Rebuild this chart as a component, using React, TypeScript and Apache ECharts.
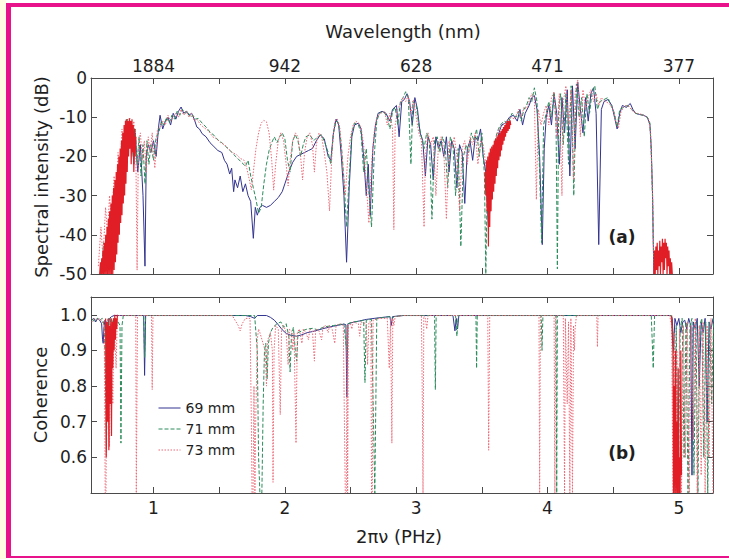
import React, { useEffect, useRef } from 'react';
import * as echarts from 'echarts';

// ---- axes ----
const X_MIN = 0.524;
const X_MAX = 5.26;
const freqTicks = [1, 2, 3, 4, 5];
const halfTicks = [1, 1.5, 2, 2.5, 3, 3.5, 4, 4.5, 5];
const wavelengthLabels = ['1884', '942', '628', '471', '377'];
const dbTicks = [-50, -40, -30, -20, -10, 0];
const cohTicks = [0.6, 0.7, 0.8, 0.9, 1.0];
const seriesNames = ['69 mm', '71 mm', '73 mm'];

// ---- (a) spectral intensity, dB ----
const spec69 = [[0.60,-50],[0.63,-44],[0.66,-47],[0.69,-38],[0.71,-42],[0.73,-30],[0.75,-24],[0.77,-16],[0.79,-20],[0.80,-11],[0.82,-18],[0.83,-12],[0.85,-22],[0.86,-14],[0.88,-24],[0.90,-17],[0.92,-30],[0.935,-48],[0.945,-20],[0.96,-17],[0.98,-19],[1.0,-16],[1.02,-20],[1.04,-12],[1.05,-9.5],[1.07,-13],[1.09,-11],[1.11,-10],[1.13,-12],[1.15,-9],[1.17,-10.5],[1.19,-8.5],[1.21,-7.4],[1.23,-9],[1.25,-8.5],[1.27,-9.5],[1.29,-9],[1.31,-10.5],[1.33,-12.5],[1.35,-13],[1.37,-14.2],[1.40,-15],[1.43,-16.5],[1.46,-17.5],[1.49,-18.5],[1.52,-19],[1.54,-21],[1.56,-22],[1.58,-24.5],[1.595,-23],[1.61,-29],[1.62,-26],[1.64,-28],[1.66,-25],[1.68,-29],[1.70,-27],[1.72,-30],[1.74,-31.5],[1.76,-40.9],[1.775,-33],[1.79,-35],[1.81,-33],[1.83,-32.5],[1.86,-33],[1.89,-32.5],[1.92,-31.5],[1.95,-30.5],[1.98,-29],[2.0,-27],[2.03,-24],[2.06,-21.5],[2.09,-20],[2.12,-19.5],[2.15,-19],[2.18,-18.5],[2.21,-18],[2.24,-16],[2.27,-14.5],[2.30,-15.5],[2.33,-20],[2.35,-21],[2.37,-14],[2.39,-10.5],[2.41,-12],[2.43,-20],[2.45,-30],[2.47,-47],[2.49,-28],[2.51,-15],[2.53,-12],[2.56,-11.5],[2.58,-13],[2.60,-20],[2.62,-30],[2.635,-22],[2.65,-35],[2.67,-18],[2.69,-12],[2.71,-9],[2.74,-8.5],[2.77,-9],[2.80,-11],[2.82,-8],[2.85,-7],[2.87,-15],[2.89,-6],[2.91,-5.5],[2.93,-4],[2.95,-6],[2.97,-12],[2.99,-5],[3.01,-8],[3.03,-14],[3.05,-16],[3.07,-25],[3.09,-15],[3.11,-17],[3.13,-26],[3.15,-15],[3.17,-18],[3.19,-16],[3.21,-20],[3.23,-15],[3.25,-24],[3.27,-16],[3.29,-18],[3.31,-28],[3.33,-17],[3.35,-19],[3.37,-32],[3.39,-18],[3.41,-16],[3.43,-21],[3.45,-15],[3.47,-16],[3.49,-13],[3.51,-20],[3.53,-24],[3.55,-38],[3.57,-30],[3.59,-22],[3.61,-17],[3.63,-14],[3.65,-12],[3.68,-11.5],[3.71,-10],[3.74,-9.5],[3.77,-11],[3.79,-8],[3.81,-12],[3.83,-9],[3.86,-7],[3.88,-5],[3.90,-4.5],[3.92,-8],[3.94,-20],[3.96,-42.5],[3.975,-18],[3.99,-10],[4.01,-7],[4.03,-12],[4.05,-4],[4.07,-9],[4.09,-22],[4.11,-5],[4.13,-14],[4.15,-3],[4.17,-25],[4.19,-2],[4.21,-18],[4.23,-1],[4.25,-8],[4.27,-14],[4.29,-5],[4.31,-11],[4.33,-4],[4.35,-2.5],[4.37,-9],[4.39,-42.5],[4.41,-8],[4.43,-6],[4.46,-5.5],[4.49,-7],[4.51,-10],[4.53,-13],[4.55,-9],[4.57,-7],[4.60,-7.5],[4.63,-6.5],[4.65,-8],[4.67,-9],[4.70,-9.3],[4.73,-9.5],[4.76,-10],[4.78,-12],[4.79,-18],[4.80,-30],[4.805,-42],[4.81,-50]];

const spec71 = [[0.60,-50],[0.62,-42],[0.64,-48],[0.66,-36],[0.68,-44],[0.70,-30],[0.72,-36],[0.74,-22],[0.755,-28],[0.77,-14],[0.785,-19],[0.80,-10.5],[0.815,-17],[0.83,-11],[0.845,-20],[0.86,-13],[0.875,-22],[0.89,-15],[0.905,-25],[0.92,-17],[0.935,-27],[0.95,-16],[0.965,-22],[0.98,-17],[1.0,-21],[1.02,-15],[1.04,-14],[1.06,-11],[1.08,-12],[1.10,-10],[1.12,-11.5],[1.14,-9.5],[1.16,-10.5],[1.18,-8.5],[1.20,-9.5],[1.22,-8],[1.24,-9],[1.26,-8.5],[1.28,-10],[1.30,-9.5],[1.32,-10.5],[1.34,-10.3],[1.37,-11.5],[1.40,-12.5],[1.43,-13.8],[1.46,-14.6],[1.49,-15.8],[1.52,-16.5],[1.55,-17.5],[1.58,-18.4],[1.61,-19.5],[1.64,-20.5],[1.67,-21.5],[1.70,-22.5],[1.72,-21],[1.74,-25],[1.76,-28],[1.78,-31],[1.80,-34.5],[1.82,-33],[1.84,-27],[1.86,-22],[1.88,-18.5],[1.90,-16.5],[1.92,-15],[1.94,-16.5],[1.96,-15],[1.98,-14],[2.00,-15.5],[2.02,-21],[2.04,-24],[2.06,-16],[2.08,-14.5],[2.10,-16],[2.12,-20],[2.14,-17],[2.16,-15],[2.19,-14.5],[2.22,-16],[2.25,-15],[2.28,-14.5],[2.31,-17],[2.33,-19],[2.35,-22],[2.37,-14],[2.39,-11],[2.41,-11.5],[2.43,-17],[2.45,-26],[2.47,-38],[2.49,-25],[2.51,-14],[2.53,-11.5],[2.56,-12],[2.58,-14],[2.60,-24],[2.62,-18],[2.64,-29],[2.66,-38],[2.68,-20],[2.70,-11],[2.72,-9],[2.75,-8.5],[2.78,-10],[2.80,-13],[2.82,-8.5],[2.84,-7.5],[2.86,-12],[2.88,-6],[2.90,-5],[2.92,-3.5],[2.94,-5],[2.96,-22],[2.975,-6],[3.00,-7],[3.02,-12],[3.04,-15],[3.06,-18],[3.08,-14],[3.10,-16],[3.12,-36],[3.14,-16],[3.16,-15],[3.18,-19],[3.20,-15],[3.22,-17],[3.24,-28],[3.26,-15],[3.28,-17],[3.30,-30],[3.32,-18],[3.34,-43],[3.36,-20],[3.38,-17],[3.40,-19],[3.42,-14],[3.44,-16],[3.46,-13],[3.48,-20],[3.50,-14],[3.52,-25],[3.53,-50],[3.54,-30],[3.56,-24],[3.58,-20],[3.60,-16],[3.62,-13.5],[3.64,-12],[3.67,-11],[3.70,-11.5],[3.73,-9],[3.76,-10],[3.78,-8.5],[3.80,-11],[3.82,-8],[3.84,-7],[3.86,-5],[3.88,-6],[3.90,-2.5],[3.92,-6],[3.94,-24],[3.955,-42],[3.97,-12],[3.99,-9],[4.01,-6],[4.03,-10],[4.05,-3.5],[4.065,-12],[4.075,-48.7],[4.085,-8],[4.10,-4],[4.12,-17],[4.14,-4],[4.16,-22],[4.18,-2],[4.20,-30],[4.22,-1.5],[4.24,-10],[4.26,-5],[4.28,-15],[4.30,-4],[4.32,-9],[4.34,-3.5],[4.36,-2],[4.38,-8],[4.40,-6],[4.43,-5.5],[4.46,-5],[4.49,-7.5],[4.51,-9],[4.53,-12.5],[4.55,-8],[4.58,-7.5],[4.61,-7],[4.64,-8],[4.67,-9],[4.70,-9.3],[4.73,-9.5],[4.76,-10],[4.78,-11.5],[4.79,-19],[4.80,-31],[4.808,-45],[4.815,-50]];

const spec73 = [[0.58,-48],[0.60,-38],[0.615,-46],[0.635,-33],[0.65,-40],[0.665,-30],[0.68,-37],[0.70,-25],[0.715,-31],[0.73,-19],[0.745,-24],[0.76,-13],[0.775,-18],[0.79,-10.5],[0.805,-16],[0.82,-10.3],[0.835,-15],[0.85,-11],[0.865,-18],[0.875,-49],[0.885,-17],[0.90,-14],[0.915,-21],[0.93,-16],[0.945,-24],[0.96,-15],[0.975,-19],[0.99,-14],[1.01,-23],[1.03,-13],[1.05,-12.5],[1.07,-11],[1.09,-12],[1.11,-9.5],[1.13,-11],[1.15,-10],[1.17,-9],[1.19,-10],[1.21,-8],[1.23,-9.5],[1.25,-8.5],[1.27,-10],[1.29,-9],[1.31,-11],[1.33,-10.5],[1.36,-12],[1.39,-12.8],[1.42,-13.5],[1.45,-15],[1.48,-15.5],[1.51,-16.5],[1.54,-17],[1.57,-18],[1.60,-19],[1.63,-19.5],[1.66,-20.5],[1.69,-21],[1.71,-23],[1.73,-26],[1.745,-28.5],[1.76,-24],[1.78,-18],[1.80,-14],[1.82,-11.5],[1.84,-10.8],[1.86,-11.2],[1.88,-14],[1.90,-21],[1.915,-28.6],[1.93,-22],[1.95,-16],[1.97,-14],[1.99,-16],[2.01,-22],[2.025,-27.5],[2.04,-21],[2.06,-16],[2.08,-14],[2.10,-15],[2.12,-20],[2.135,-26],[2.15,-19],[2.17,-15],[2.19,-14],[2.21,-17],[2.225,-24],[2.24,-17],[2.26,-14],[2.28,-15],[2.30,-19],[2.32,-24],[2.34,-33.9],[2.36,-18],[2.38,-11],[2.40,-10.5],[2.42,-13],[2.44,-22],[2.46,-30],[2.48,-20],[2.50,-15],[2.52,-12],[2.54,-11],[2.56,-11.5],[2.58,-12.5],[2.60,-17],[2.62,-27],[2.64,-37],[2.66,-22],[2.68,-14],[2.70,-10],[2.73,-9],[2.76,-8.5],[2.78,-12],[2.80,-9],[2.82,-13],[2.83,-38.7],[2.84,-12],[2.86,-8],[2.88,-6.5],[2.90,-5],[2.92,-6],[2.94,-4.5],[2.96,-9],[2.98,-5.5],[3.00,-10],[3.02,-14],[3.04,-16],[3.06,-38],[3.07,-20],[3.09,-14],[3.11,-17],[3.13,-15],[3.15,-30],[3.17,-17],[3.19,-15],[3.21,-18],[3.23,-36],[3.25,-16],[3.27,-18],[3.29,-15],[3.31,-20],[3.33,-34],[3.35,-18],[3.37,-16],[3.39,-22],[3.41,-15],[3.43,-17],[3.45,-14],[3.47,-22],[3.49,-16],[3.51,-17],[3.53,-22],[3.55,-26],[3.57,-30],[3.59,-20],[3.61,-15],[3.63,-13],[3.66,-12],[3.69,-11],[3.72,-10],[3.75,-10.5],[3.78,-8],[3.80,-10],[3.82,-7.5],[3.84,-8],[3.86,-6],[3.88,-4],[3.90,-5],[3.915,-31],[3.93,-8],[3.95,-12],[3.97,-9],[3.99,-7],[4.01,-12],[4.03,-5],[4.05,-3.5],[4.07,-15],[4.09,-4],[4.11,-30],[4.12,-6],[4.14,-2],[4.16,-12],[4.18,-3],[4.20,-26],[4.21,-4],[4.23,-0.5],[4.25,-15],[4.27,-3],[4.29,-8],[4.31,-5],[4.33,-3],[4.35,-6],[4.37,-4],[4.39,-7],[4.41,-5],[4.44,-6],[4.47,-6.5],[4.50,-8],[4.52,-11],[4.54,-12.8],[4.56,-8.5],[4.59,-7],[4.62,-7.2],[4.65,-8.5],[4.68,-9],[4.71,-9.2],[4.74,-9.6],[4.77,-10.5],[4.785,-14],[4.795,-25],[4.80,-30],[4.805,-40],[4.812,-50]];

// dense 73 mm oscillation bands in (a)
const spec73DenseA = [[0.59,-50],[0.596,-47],[0.60,-50],[0.606,-46],[0.61,-50],[0.616,-44],[0.62,-50],[0.626,-42],[0.63,-50],[0.636,-40],[0.64,-50],[0.646,-38],[0.65,-50],[0.656,-36],[0.66,-50],[0.666,-34],[0.67,-50],[0.676,-32],[0.68,-50],[0.686,-30],[0.69,-50],[0.696,-28],[0.70,-49],[0.706,-26],[0.71,-47],[0.716,-24],[0.72,-45],[0.726,-22],[0.73,-42],[0.736,-20],[0.74,-40],[0.746,-18],[0.75,-37],[0.756,-16],[0.76,-35],[0.766,-14],[0.77,-32],[0.776,-12],[0.78,-30],[0.786,-11],[0.79,-27],[0.796,-10.5],[0.80,-24],[0.806,-11],[0.81,-20],[0.816,-10.3],[0.82,-18],[0.826,-11],[0.83,-22],[0.836,-10.5],[0.84,-19],[0.846,-12],[0.85,-24],[0.856,-13],[0.86,-20],[0.866,-15]];
const spec73DenseB = [[3.525,-24],[3.53,-30],[3.535,-21],[3.54,-34],[3.545,-20],[3.55,-43],[3.555,-19],[3.56,-38],[3.565,-18],[3.57,-34],[3.575,-17.5],[3.58,-31],[3.585,-17],[3.59,-29],[3.595,-16],[3.60,-27],[3.605,-15.5],[3.61,-25],[3.615,-15],[3.62,-23],[3.625,-14.5],[3.63,-21],[3.635,-14],[3.64,-20],[3.645,-13.5],[3.65,-18.5],[3.655,-13],[3.66,-17],[3.665,-12.5],[3.67,-16],[3.675,-12],[3.68,-15],[3.685,-11.5],[3.69,-14],[3.695,-11],[3.70,-13.5],[3.705,-11],[3.71,-13],[3.715,-10.8],[3.72,-12]];
const spec73DenseC = [[4.81,-50],[4.815,-44],[4.82,-50],[4.825,-43],[4.83,-49],[4.835,-42],[4.84,-50],[4.845,-44],[4.85,-48],[4.855,-41.5],[4.86,-50],[4.865,-43],[4.87,-47],[4.875,-41],[4.88,-50],[4.885,-42],[4.89,-49],[4.895,-41],[4.90,-46],[4.905,-42],[4.91,-50],[4.915,-43],[4.92,-48],[4.925,-44],[4.93,-50],[4.935,-46],[4.94,-50],[4.945,-47],[4.95,-50]];

// ---- (b) coherence ----
const coh69 = [[0.53,0.985],[0.545,0.99],[0.56,0.98],[0.575,0.99],[0.59,0.985],[0.605,0.975],[0.612,0.93],[0.617,0.92],[0.622,0.96],[0.63,0.985],[0.64,0.98],[0.648,0.72],[0.655,0.97],[0.665,0.99],[0.68,0.995],[0.70,0.998],[0.925,0.998],[0.932,0.83],[0.94,0.998],[1.70,0.998],[1.74,0.995],[1.77,0.99],[1.79,0.998],[1.86,0.998],[1.89,0.993],[1.92,0.985],[1.95,0.972],[1.98,0.958],[2.01,0.948],[2.05,0.942],[2.09,0.94],[2.13,0.944],[2.17,0.95],[2.21,0.953],[2.25,0.957],[2.29,0.961],[2.33,0.965],[2.37,0.968],[2.41,0.971],[2.45,0.974],[2.465,0.972],[2.472,0.77],[2.48,0.975],[2.52,0.979],[2.57,0.983],[2.62,0.987],[2.68,0.99],[2.75,0.993],[2.80,0.995],[2.81,0.97],[2.82,0.995],[2.90,0.998],[3.28,0.998],[3.295,0.955],[3.305,0.99],[3.315,0.96],[3.325,0.998],[4.94,0.998],[4.95,0.99],[4.96,0.9],[4.97,0.99],[4.985,0.97],[5.00,0.99],[5.015,0.95],[5.03,0.98],[5.045,0.985],[5.06,0.96],[5.075,0.99],[5.09,0.97],[5.10,0.55],[5.11,0.98],[5.125,0.96],[5.14,0.99],[5.155,0.8],[5.17,0.98],[5.185,0.95],[5.20,0.99],[5.215,0.7],[5.23,0.98],[5.245,0.96],[5.26,0.99]];

const coh71 = [[0.53,0.99],[0.55,0.98],[0.57,0.99],[0.59,0.985],[0.61,0.99],[0.625,0.97],[0.635,0.8],[0.642,0.62],[0.65,0.95],[0.66,0.99],[0.67,0.93],[0.68,0.99],[0.70,0.96],[0.71,0.99],[0.73,0.98],[0.745,0.97],[0.752,0.64],[0.76,0.97],[0.77,0.998],[0.925,0.998],[0.932,0.88],[0.94,0.998],[1.77,0.998],[1.79,0.9],[1.80,0.6],[1.81,0.5],[1.825,0.5],[1.835,0.75],[1.845,0.9],[1.855,0.92],[1.865,0.82],[1.875,0.92],[1.89,0.95],[1.91,0.965],[1.94,0.975],[1.97,0.98],[1.99,0.965],[2.01,0.975],[2.03,0.94],[2.04,0.84],[2.05,0.94],[2.065,0.965],[2.08,0.9],[2.09,0.87],[2.10,0.95],[2.13,0.955],[2.17,0.96],[2.21,0.962],[2.25,0.958],[2.29,0.965],[2.33,0.968],[2.37,0.97],[2.41,0.972],[2.45,0.975],[2.47,0.9],[2.48,0.975],[2.52,0.98],[2.57,0.982],[2.60,0.985],[2.61,0.81],[2.62,0.985],[2.66,0.987],[2.675,0.7],[2.685,0.5],[2.69,0.5],[2.70,0.99],[2.76,0.993],[2.80,0.995],[2.82,0.99],[2.83,0.995],[2.90,0.998],[3.14,0.998],[3.146,0.79],[3.152,0.998],[3.30,0.998],[3.31,0.94],[3.32,0.998],[3.455,0.998],[3.46,0.85],[3.465,0.998],[3.952,0.998],[3.958,0.90],[3.965,0.998],[4.065,0.998],[4.07,0.5],[4.075,0.998],[4.79,0.998],[4.805,0.85],[4.815,0.998],[4.94,0.998],[4.955,0.95],[4.97,0.7],[4.98,0.97],[4.995,0.5],[5.01,0.96],[5.025,0.99],[5.04,0.6],[5.055,0.98],[5.07,0.5],[5.085,0.97],[5.10,0.99],[5.115,0.55],[5.13,0.98],[5.145,0.5],[5.16,0.97],[5.175,0.99],[5.19,0.6],[5.205,0.98],[5.22,0.5],[5.235,0.98],[5.25,0.75],[5.265,0.99]];

const coh73 = [[0.53,0.98],[0.55,0.99],[0.57,0.985],[0.59,0.99],[0.61,0.98],[0.625,0.97],[0.632,0.5],[0.638,0.5],[0.645,0.97],[0.655,0.99],[0.665,0.63],[0.672,0.99],[0.69,0.75],[0.70,0.99],[0.715,0.85],[0.725,0.998],[0.865,0.998],[0.869,0.5],[0.874,0.5],[0.878,0.998],[0.985,0.998],[0.99,0.79],[0.996,0.998],[1.60,0.998],[1.62,0.985],[1.645,0.97],[1.66,0.955],[1.675,0.975],[1.70,0.99],[1.735,0.99],[1.745,0.7],[1.75,0.5],[1.758,0.5],[1.765,0.8],[1.772,0.5],[1.778,0.7],[1.79,0.93],[1.80,0.96],[1.81,0.95],[1.85,0.9],[1.86,0.8],[1.87,0.93],[1.89,0.95],[1.905,0.9],[1.91,0.53],[1.918,0.9],[1.93,0.97],[1.95,0.96],[1.965,0.72],[1.975,0.96],[1.99,0.97],[2.01,0.95],[2.025,0.86],[2.035,0.96],[2.05,0.955],[2.06,0.9],[2.07,0.95],[2.085,0.64],[2.095,0.95],[2.11,0.96],[2.13,0.92],[2.14,0.96],[2.16,0.95],[2.18,0.93],[2.19,0.96],[2.21,0.955],[2.225,0.87],[2.235,0.96],[2.26,0.955],[2.28,0.93],[2.29,0.965],[2.31,0.97],[2.33,0.95],[2.34,0.97],[2.36,0.96],[2.38,0.92],[2.39,0.97],[2.42,0.975],[2.445,0.97],[2.46,0.5],[2.468,0.5],[2.474,0.97],[2.478,0.5],[2.484,0.97],[2.50,0.975],[2.51,0.96],[2.52,0.98],[2.56,0.975],[2.57,0.94],[2.58,0.98],[2.62,0.975],[2.63,0.86],[2.64,0.98],[2.655,0.98],[2.66,0.5],[2.666,0.5],[2.672,0.985],[2.72,0.99],[2.78,0.99],[2.795,0.85],[2.805,0.99],[2.815,0.64],[2.822,0.99],[2.83,0.97],[2.84,0.995],[2.90,0.998],[3.04,0.998],[3.047,0.75],[3.052,0.5],[3.058,0.998],[3.07,0.99],[3.08,0.96],[3.09,0.998],[3.545,0.998],[3.552,0.62],[3.56,0.998],[3.935,0.998],[3.94,0.5],[3.946,0.998],[4.05,0.998],[4.056,0.5],[4.062,0.998],[4.12,0.998],[4.13,0.5],[4.136,0.99],[4.15,0.75],[4.16,0.98],[4.17,0.5],[4.178,0.99],[4.19,0.5],[4.198,0.97],[4.205,0.9],[4.21,0.96],[4.22,0.998],[4.375,0.998],[4.38,0.91],[4.385,0.998],[4.93,0.998],[4.945,0.97],[4.955,0.5],[4.965,0.95],[4.975,0.5],[4.985,0.9],[4.995,0.5],[5.005,0.96],[5.02,0.5],[5.035,0.97],[5.05,0.6],[5.065,0.98],[5.08,0.5],[5.095,0.97],[5.11,0.65],[5.125,0.99],[5.14,0.5],[5.155,0.97],[5.17,0.55],[5.185,0.98],[5.20,0.5],[5.215,0.97],[5.23,0.6],[5.245,0.99],[5.26,0.5]];

const coh73DenseA = [[0.635,0.99],[0.64,0.6],[0.645,0.98],[0.65,0.7],[0.655,0.99],[0.66,0.62],[0.665,0.97],[0.67,0.75],[0.675,0.99],[0.68,0.66],[0.685,0.98],[0.69,0.85],[0.695,0.99],[0.70,0.9],[0.705,1.0],[0.71,0.93],[0.715,0.99],[0.72,0.96],[0.725,1.0]];
const coh73DenseB = [[4.945,0.998],[4.955,0.9],[4.96,0.5],[4.965,0.8],[4.97,0.5],[4.975,0.9],[4.98,0.5],[4.985,0.7],[4.99,0.5],[4.995,0.85],[5.0,0.5],[5.005,0.6],[5.01,0.5],[5.015,0.9],[5.02,0.55]];

const COLOR69 = '#33348f';
const COLOR71 = '#2c8c5c';
const COLOR73 = '#ea6a78';
const RED = '#e11d25';
const FONT = 'DejaVu Sans';
const TEXT = '#1e1e1e';
const AXIS = '#4a4a4a';

export default function App() {
  const ref = useRef<HTMLDivElement>(null);
  useEffect(() => {
    if (!ref.current) return;
    const chart = echarts.init(ref.current, null, { renderer: 'svg' });

    const axisLine = { show: true, onZero: false, lineStyle: { color: AXIS, width: 1 } };
    const tick = (values: number[]) => ({
      show: true, inside: true, length: 6, customValues: values,
      lineStyle: { color: AXIS, width: 1 },
    });
    const noLabel = { show: false };
    const labelStyle = { color: TEXT, fontSize: 17, fontFamily: FONT };

    const line = (name: string | undefined, data: number[][], color: string, type: any, gi: number, width = 1) => ({
      type: 'line', name, data, xAxisIndex: gi * 2, yAxisIndex: gi * 2,
      showSymbol: false, symbol: 'none', silent: true, clip: true,
      lineStyle: { color, width, type },
      itemStyle: { color },
    });

    chart.setOption({
      animation: false,
      backgroundColor: '#ffffff',
      textStyle: { fontFamily: FONT },
      grid: [
        { left: 91, top: 78, width: 622, height: 196, containLabel: false },
        { left: 91, top: 297, width: 622, height: 196, containLabel: false },
      ],
      xAxis: [
        { type: 'value', gridIndex: 0, position: 'bottom', min: X_MIN, max: X_MAX, axisLine, axisTick: tick(halfTicks), axisLabel: noLabel, splitLine: { show: false } },
        { type: 'value', gridIndex: 0, position: 'top', min: X_MIN, max: X_MAX, axisLine, axisTick: tick(halfTicks),
          axisLabel: { ...labelStyle, margin: 4, customValues: freqTicks, formatter: (v: number) => wavelengthLabels[freqTicks.indexOf(Math.round(v))] ?? '' },
          splitLine: { show: false } },
        { type: 'value', gridIndex: 1, position: 'bottom', min: X_MIN, max: X_MAX, axisLine, axisTick: tick(halfTicks),
          axisLabel: { ...labelStyle, margin: 6, customValues: freqTicks, formatter: (v: number) => String(Math.round(v)) },
          splitLine: { show: false } },
        { type: 'value', gridIndex: 1, position: 'top', min: X_MIN, max: X_MAX, axisLine, axisTick: tick(halfTicks), axisLabel: noLabel, splitLine: { show: false } },
      ],
      yAxis: [
        { type: 'value', gridIndex: 0, position: 'left', min: -50, max: 0, axisLine, axisTick: tick(dbTicks),
          axisLabel: { ...labelStyle, margin: 4, customValues: dbTicks, formatter: (v: number) => String(Math.round(v)) },
          splitLine: { show: false } },
        { type: 'value', gridIndex: 0, position: 'right', min: -50, max: 0, axisLine, axisTick: tick(dbTicks), axisLabel: noLabel, splitLine: { show: false } },
        { type: 'value', gridIndex: 1, position: 'left', min: 0.5, max: 1.05, axisLine, axisTick: tick(cohTicks),
          axisLabel: { ...labelStyle, margin: 4, customValues: cohTicks, formatter: (v: number) => v.toFixed(1) },
          splitLine: { show: false } },
        { type: 'value', gridIndex: 1, position: 'right', min: 0.5, max: 1.05, axisLine, axisTick: tick(cohTicks), axisLabel: noLabel, splitLine: { show: false } },
      ],
      legend: {
        data: seriesNames, orient: 'vertical', left: 158, top: 401, padding: 0,
        itemWidth: 22, itemHeight: 14, itemGap: 7, selectedMode: false,
        itemStyle: { opacity: 0 },
        lineStyle: { width: 1 },
        textStyle: { fontSize: 14, fontFamily: FONT, color: TEXT },
      },
      graphic: [
        { type: 'rect', shape: { x: 0, y: 0, width: 6, height: 559 }, style: { fill: '#fffde2' } },
        { type: 'rect', shape: { x: 6, y: 3, width: 5, height: 555 }, style: { fill: '#e8128b' } },
        { type: 'rect', shape: { x: 6, y: 3, width: 723, height: 4 }, style: { fill: '#e8128b' } },
        { type: 'rect', shape: { x: 6, y: 556, width: 723, height: 2 }, style: { fill: '#e8128b' } },
        { type: 'text', x: 403, y: 31, style: { text: 'Wavelength (nm)', fontSize: 18, fontFamily: FONT, fill: TEXT, align: 'center', verticalAlign: 'middle' } },
        { type: 'text', x: 399, y: 536, style: { text: '2πν (PHz)', fontSize: 18, fontFamily: FONT, fill: TEXT, align: 'center', verticalAlign: 'middle' } },
        { type: 'text', x: 41, y: 177, rotation: Math.PI / 2, style: { text: 'Spectral intensity (dB)', fontSize: 18, fontFamily: FONT, fill: TEXT, align: 'center', verticalAlign: 'middle' } },
        { type: 'text', x: 40, y: 395, rotation: Math.PI / 2, style: { text: 'Coherence', fontSize: 18, fontFamily: FONT, fill: TEXT, align: 'center', verticalAlign: 'middle' } },
        { type: 'text', x: 622, y: 237, style: { text: '(a)', fontSize: 17, fontWeight: 'bold', fontFamily: FONT, fill: TEXT, align: 'center', verticalAlign: 'middle' } },
        { type: 'text', x: 622, y: 453, style: { text: '(b)', fontSize: 17, fontWeight: 'bold', fontFamily: FONT, fill: TEXT, align: 'center', verticalAlign: 'middle' } },
      ],
      series: [
        line(seriesNames[0], spec69, COLOR69, 'solid', 0),
        line(seriesNames[1], spec71, COLOR71, [4, 2], 0),
        line(seriesNames[2], spec73, COLOR73, [1.5, 1.5], 0),
        line(undefined, spec73DenseA, RED, 'solid', 0, 1.2),
        line(undefined, spec73DenseB, RED, 'solid', 0, 1.2),
        line(undefined, spec73DenseC, RED, 'solid', 0, 1.2),
        line(seriesNames[0], coh69, COLOR69, 'solid', 1),
        line(seriesNames[1], coh71, COLOR71, [4, 2], 1),
        line(seriesNames[2], coh73, COLOR73, [1.5, 1.5], 1),
        line(undefined, coh73DenseA, RED, 'solid', 1, 1.2),
        line(undefined, coh73DenseB, RED, 'solid', 1, 1.2),
      ],
    });
    return () => chart.dispose();
  }, []);

  return <div ref={ref} style={{ position: 'absolute', left: 0, top: 0, width: 729, height: 559 }} />;
}
